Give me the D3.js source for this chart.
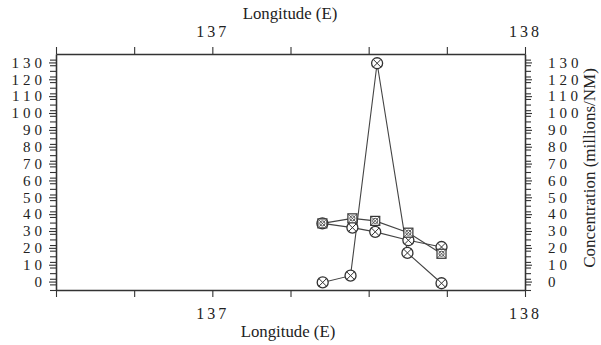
<!DOCTYPE html>
<html>
<head>
<meta charset="utf-8">
<script src="https://cdn.jsdelivr.net/npm/d3@7"></script>
<style>
  body { margin: 0; background: #fff; }
  text { font-family: "Liberation Serif", "Times New Roman", serif; fill: #222; }
</style>
</head>
<body>
<svg id="chart" width="601" height="345"></svg>
<script>
// longitudes of the stations (two slightly different sets)
const lonPeak = [137.353, 137.442, 137.527, 137.624, 137.733];
const lonPair = [137.352, 137.448, 137.521, 137.627, 137.733];
// concentrations (millions/NM)
const peakSeries = [-0.5, 3.5, 129.5, 17, -1];
const upperSeries = [34.5, 37.5, 36, 29, 16.5];
const lowerSeries = [34.5, 32, 29.5, 24.5, 20.5];
// ticks
const yTicks = [0, 10, 20, 30, 40, 50, 60, 70, 80, 90, 100, 110, 120, 130];
const xTicks = [136.5, 136.75, 137, 137.25, 137.5, 137.75, 138];
const xLabelled = [137, 138];

const svg = d3.select("#chart");
const plotL = 56, plotR = 525, plotT = 54, plotB = 290;

const x = d3.scaleLinear().domain([136.5, 138]).range([plotL, plotR]);
const y = d3.scaleLinear().domain([-5, 135]).range([plotB, plotT]);

const minor = d3.range(-5, 135, 10 / 3);

const axisColor = "#333";

function styleAxis(g) {
  g.select(".domain").attr("stroke", axisColor).attr("stroke-width", 1.3);
  g.selectAll(".tick line").attr("stroke", axisColor).attr("stroke-width", 1.1);
  g.selectAll(".tick text").attr("fill", "#222");
}

// left axis
svg.append("g").attr("transform", "translate(" + plotL + ",0)")
  .call(d3.axisLeft(y).tickValues(minor).tickSize(6).tickSizeOuter(0).tickFormat(""))
  .call(styleAxis);
svg.append("g").attr("transform", "translate(" + plotL + ",0)")
  .call(d3.axisLeft(y).tickValues(yTicks).tickSize(7).tickSizeOuter(0).tickPadding(3))
  .call(styleAxis)
  .call(g => g.selectAll(".tick text").style("font-size", "15px").style("letter-spacing", "4px"));

// right axis
svg.append("g").attr("transform", "translate(" + plotR + ",0)")
  .call(d3.axisRight(y).tickValues(minor).tickSize(6).tickSizeOuter(0).tickFormat(""))
  .call(styleAxis);
svg.append("g").attr("transform", "translate(" + plotR + ",0)")
  .call(d3.axisRight(y).tickValues(yTicks).tickSize(7).tickSizeOuter(0).tickPadding(16))
  .call(styleAxis)
  .call(g => g.selectAll(".tick text").style("font-size", "15px").style("letter-spacing", "4px"));

// top axis
svg.append("g").attr("transform", "translate(0," + plotT + ")")
  .call(d3.axisTop(x).tickValues(xTicks).tickSize(7).tickSizeOuter(0).tickPadding(10)
    .tickFormat(d => xLabelled.includes(d) ? d3.format("d")(d) : ""))
  .call(styleAxis)
  .call(g => g.selectAll(".tick text").style("font-size", "16px").style("letter-spacing", "3px"));

// bottom axis
svg.append("g").attr("transform", "translate(0," + plotB + ")")
  .call(d3.axisBottom(x).tickValues(xTicks).tickSize(7).tickSizeOuter(0).tickPadding(11)
    .tickFormat(d => xLabelled.includes(d) ? d3.format("d")(d) : ""))
  .call(styleAxis)
  .call(g => g.selectAll(".tick text").style("font-size", "16px").style("letter-spacing", "3px"));

// axis titles
svg.append("text").attr("x", 290).attr("y", 19).attr("text-anchor", "middle")
  .style("font-size", "16.8px").text("Longitude (E)");
svg.append("text").attr("x", 288).attr("y", 337).attr("text-anchor", "middle")
  .style("font-size", "16.8px").text("Longitude (E)");
svg.append("text").attr("transform", "translate(595,168) rotate(-90)").attr("text-anchor", "middle")
  .style("font-size", "17px").text("Concentration (millions/NM)");

// series lines
const lineColor = "#444";
function drawLine(lons, vals) {
  const pts = lons.map((l, i) => [x(l), y(vals[i])]);
  svg.append("path").attr("d", d3.line()(pts))
    .attr("fill", "none").attr("stroke", lineColor).attr("stroke-width", 1.1);
  return pts;
}
const pPeak = drawLine(lonPeak, peakSeries);
const pUpper = drawLine(lonPair, upperSeries);
const pLower = drawLine(lonPair, lowerSeries);

// markers
function circleMarker(p) {
  const g = svg.append("g").attr("transform", "translate(" + p[0] + "," + p[1] + ")");
  const r = 5.5, k = r * 0.7;
  g.append("circle").attr("r", r).attr("fill", "#fff").attr("stroke", "#333").attr("stroke-width", 1.3);
  g.append("path").attr("d", "M" + (-k) + "," + (-k) + "L" + k + "," + k + "M" + k + "," + (-k) + "L" + (-k) + "," + k)
    .attr("stroke", "#333").attr("stroke-width", 1);
}
function squareMarker(p) {
  const g = svg.append("g").attr("transform", "translate(" + p[0] + "," + p[1] + ")");
  const s = 4.5;
  g.append("rect").attr("x", -s).attr("y", -s).attr("width", 2 * s).attr("height", 2 * s)
    .attr("fill", "#fff").attr("stroke", "#333").attr("stroke-width", 1.2);
  g.append("circle").attr("r", 2.6).attr("fill", "none").attr("stroke", "#444").attr("stroke-width", 0.9);
  g.append("path").attr("d", "M" + (-s) + "," + (-s) + "L" + s + "," + s + "M" + s + "," + (-s) + "L" + (-s) + "," + s)
    .attr("stroke", "#444").attr("stroke-width", 0.8);
}
pLower.forEach(circleMarker);
pUpper.forEach(squareMarker);
pPeak.forEach(circleMarker);
</script>
</body>
</html>
